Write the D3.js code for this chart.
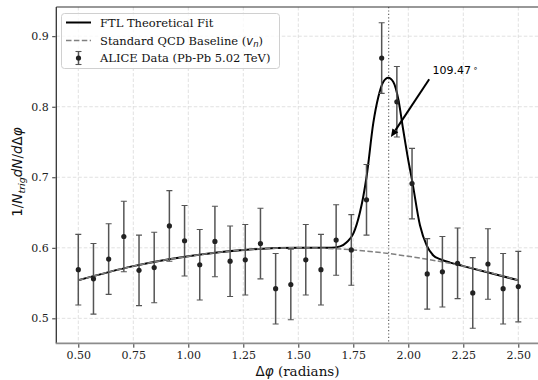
<!DOCTYPE html>
<html>
<head>
<meta charset="utf-8">
<script src="https://cdn.jsdelivr.net/npm/d3@7"></script>
<style>
  body { margin: 0; background: #fff; }
  svg { display: block; }
</style>
</head>
<body>
<div id="chart"></div>
<script>
// ALICE data points (delta phi in radians)
const dataX = [0.500, 0.569, 0.638, 0.707, 0.776, 0.845, 0.914, 0.983, 1.052, 1.121,
               1.190, 1.259, 1.328, 1.397, 1.466, 1.534, 1.603, 1.672, 1.741, 1.810,
               1.879, 1.948, 2.017, 2.086, 2.155, 2.224, 2.293, 2.362, 2.431, 2.500];
const dataY = [0.569, 0.556, 0.584, 0.616, 0.568, 0.572, 0.631, 0.610, 0.576, 0.609,
               0.581, 0.583, 0.606, 0.542, 0.548, 0.583, 0.569, 0.611, 0.597, 0.668,
               0.869, 0.807, 0.691, 0.563, 0.566, 0.578, 0.536, 0.577, 0.542, 0.545];
const dataErr = [0.05, 0.05, 0.05, 0.05, 0.05, 0.05, 0.05, 0.05, 0.05, 0.05,
                 0.05, 0.05, 0.05, 0.05, 0.05, 0.05, 0.05, 0.05, 0.05, 0.05,
                 0.05, 0.05, 0.05, 0.05, 0.05, 0.05, 0.05, 0.05, 0.05, 0.05];

// FTL fit curve
const fitX = [0.50, 0.75, 1.00, 1.25, 1.50, 1.65, 1.69, 1.72, 1.75, 1.78, 1.795, 1.81,
              1.841, 1.864, 1.886, 1.909, 1.932, 1.955, 1.977, 2.00, 2.017, 2.053,
              2.084, 2.114, 2.144, 2.19, 2.25, 2.50];
const fitY = [0.554, 0.574, 0.588, 0.597, 0.600, 0.600, 0.602, 0.608, 0.620, 0.650, 0.672, 0.700,
              0.777, 0.814, 0.835, 0.841, 0.835, 0.810, 0.767, 0.724, 0.696, 0.632,
              0.603, 0.589, 0.584, 0.579, 0.574, 0.554];

// QCD baseline
const baseX = [0.50, 0.75, 1.00, 1.25, 1.50, 1.75, 2.00, 2.25, 2.50];
const baseY = [0.554, 0.574, 0.588, 0.597, 0.600, 0.597, 0.588, 0.574, 0.554];

const xTicks = [0.50, 0.75, 1.00, 1.25, 1.50, 1.75, 2.00, 2.25, 2.50];
const yTicks = [0.5, 0.6, 0.7, 0.8, 0.9];

const peakAngle = 1.9106;           // 109.47 deg
const arrowTail = [2.095, 0.839];
const arrowHead = [1.921, 0.757];
const labelAt = [2.11, 0.846];

const W = 538, H = 380;
const pLeft = 56.3, pRight = 540.3, pTop = 7, pBottom = 343.3;
const SERIF = "'DejaVu Serif', 'Liberation Serif', serif";
const SANS = "'DejaVu Sans', sans-serif";

const x = d3.scaleLinear().domain([0.4, 2.6]).range([pLeft, pRight]);
const y = d3.scaleLinear().domain([0.4646, 0.9414]).range([pBottom, pTop]);

const svg = d3.select('#chart').append('svg')
  .attr('width', W)
  .attr('height', H);

svg.append('defs').append('clipPath').attr('id', 'plot')
  .append('rect').attr('x', pLeft).attr('y', pTop)
  .attr('width', pRight - pLeft).attr('height', pBottom - pTop);

// grid
const grid = svg.append('g').attr('stroke', '#d9d9d9').attr('stroke-width', 0.8)
  .attr('stroke-dasharray', '3.5,2');
grid.selectAll('.gx').data(xTicks).enter().append('line')
  .attr('x1', d => x(d)).attr('x2', d => x(d)).attr('y1', pTop).attr('y2', pBottom);
grid.selectAll('.gy').data(yTicks).enter().append('line')
  .attr('x1', pLeft).attr('x2', pRight).attr('y1', d => y(d)).attr('y2', d => y(d));

const plot = svg.append('g').attr('clip-path', 'url(#plot)');

// peak marker
plot.append('line')
  .attr('x1', x(peakAngle)).attr('x2', x(peakAngle))
  .attr('y1', pTop).attr('y2', pBottom)
  .attr('stroke', '#666').attr('stroke-width', 1.2)
  .attr('stroke-dasharray', '1.2,2.2');

const line = d3.line().x(d => x(d[0])).y(d => y(d[1])).curve(d3.curveMonotoneX);

plot.append('path')
  .datum(fitX.map((v, i) => [v, fitY[i]]))
  .attr('d', line)
  .attr('fill', 'none').attr('stroke', '#000').attr('stroke-width', 2);

plot.append('path')
  .datum(baseX.map((v, i) => [v, baseY[i]]))
  .attr('d', line)
  .attr('fill', 'none').attr('stroke', '#808080').attr('stroke-width', 1.5)
  .attr('stroke-dasharray', '5.5,2.4');

// error bars
const pts = dataX.map((v, i) => ({ x: v, y: dataY[i], e: dataErr[i] }));
const eb = plot.append('g').attr('stroke', '#555').attr('stroke-width', 1.5);
eb.selectAll('.bar').data(pts).enter().append('line')
  .attr('x1', d => x(d.x)).attr('x2', d => x(d.x))
  .attr('y1', d => y(d.y - d.e)).attr('y2', d => y(d.y + d.e));
eb.selectAll('.capt').data(pts).enter().append('line')
  .attr('x1', d => x(d.x) - 3).attr('x2', d => x(d.x) + 3)
  .attr('y1', d => y(d.y + d.e)).attr('y2', d => y(d.y + d.e))
  .attr('stroke-width', 1.1);
eb.selectAll('.capb').data(pts).enter().append('line')
  .attr('x1', d => x(d.x) - 3).attr('x2', d => x(d.x) + 3)
  .attr('y1', d => y(d.y - d.e)).attr('y2', d => y(d.y - d.e))
  .attr('stroke-width', 1.1);
plot.selectAll('.pt').data(pts).enter().append('circle')
  .attr('cx', d => x(d.x)).attr('cy', d => y(d.y)).attr('r', 2.6)
  .attr('fill', '#222');

// annotation arrow
const ax1 = x(arrowTail[0]), ay1 = y(arrowTail[1]);
const ax2 = x(arrowHead[0]), ay2 = y(arrowHead[1]);
const ang = Math.atan2(ay2 - ay1, ax2 - ax1);
const hl = 8, hw = 3.5;
const bx = ax2 - hl * Math.cos(ang), by = ay2 - hl * Math.sin(ang);
svg.append('line')
  .attr('x1', ax1).attr('y1', ay1).attr('x2', bx).attr('y2', by)
  .attr('stroke', '#000').attr('stroke-width', 2);
svg.append('path')
  .attr('d', `M${ax2},${ay2}L${bx + hw * Math.sin(ang)},${by - hw * Math.cos(ang)}L${bx - hw * Math.sin(ang)},${by + hw * Math.cos(ang)}Z`)
  .attr('fill', '#000');

const ann = svg.append('text')
  .attr('x', x(labelAt[0])).attr('y', y(labelAt[1]))
  .attr('font-family', SANS).attr('font-size', 11).attr('fill', '#000');
ann.append('tspan').text('109.47');
ann.append('tspan').attr('dx', 2).attr('dy', -3).attr('font-size', 8).text('\u2218');

// spines
svg.append('line').attr('x1', pLeft).attr('x2', pRight).attr('y1', pTop).attr('y2', pTop)
  .attr('stroke', '#333').attr('stroke-width', 1.2);
svg.append('line').attr('x1', pLeft).attr('x2', pLeft).attr('y1', pTop).attr('y2', pBottom)
  .attr('stroke', '#333').attr('stroke-width', 1.3);
svg.append('line').attr('x1', pLeft - 0.6).attr('x2', pRight).attr('y1', pBottom).attr('y2', pBottom)
  .attr('stroke', '#8c8c8c').attr('stroke-width', 1.8);

// axes
const xAxis = svg.append('g').attr('transform', `translate(0,${pBottom + 0.9})`)
  .call(d3.axisBottom(x).tickValues(xTicks).tickFormat(d3.format('.2f')).tickSize(3.5).tickPadding(3.5));
const yAxis = svg.append('g').attr('transform', `translate(${pLeft - 0.6},0)`)
  .call(d3.axisLeft(y).tickValues(yTicks).tickFormat(d3.format('.1f')).tickSize(3.5).tickPadding(3.5));
[xAxis, yAxis].forEach(g => {
  g.select('.domain').remove();
  g.selectAll('line').attr('stroke', '#333').attr('stroke-width', 1);
  g.selectAll('text').attr('font-family', SERIF).attr('font-size', 11).attr('fill', '#222');
});

// axis labels
const xl = svg.append('text').attr('x', 297.5).attr('y', 375.5)
  .attr('text-anchor', 'middle').attr('font-size', 13.5).attr('fill', '#111');
xl.append('tspan').attr('font-family', SANS).text('\u0394');
xl.append('tspan').attr('font-family', SANS).attr('font-style', 'italic').text('\u03c6');
xl.append('tspan').attr('font-family', SERIF).text(' (radians)');

const yl = svg.append('text')
  .attr('transform', 'translate(22,172) rotate(-90)')
  .attr('text-anchor', 'middle').attr('font-family', SANS)
  .attr('font-size', 13.5).attr('fill', '#111');
yl.append('tspan').text('1/');
yl.append('tspan').attr('font-style', 'italic').text('N');
yl.append('tspan').attr('font-style', 'italic').attr('font-size', 9.5).attr('dy', 3).text('trig');
yl.append('tspan').attr('font-style', 'italic').attr('dy', -3).text('dN');
yl.append('tspan').text('/');
yl.append('tspan').attr('font-style', 'italic').text('d');
yl.append('tspan').text('\u0394');
yl.append('tspan').attr('font-style', 'italic').text('\u03c6');

// legend
const lg = svg.append('g');
lg.append('rect').attr('x', 61.5).attr('y', 13.5).attr('width', 218).attr('height', 55)
  .attr('rx', 3).attr('fill', '#fff').attr('fill-opacity', 0.8)
  .attr('stroke', '#d0d0d0').attr('stroke-width', 1);
const rows = [22.5, 40.5, 58];
lg.append('line').attr('x1', 66).attr('x2', 91).attr('y1', rows[0]).attr('y2', rows[0])
  .attr('stroke', '#000').attr('stroke-width', 2);
lg.append('line').attr('x1', 66).attr('x2', 91).attr('y1', rows[1]).attr('y2', rows[1])
  .attr('stroke', '#808080').attr('stroke-width', 1.5).attr('stroke-dasharray', '5.5,2.4');
lg.append('line').attr('x1', 78.5).attr('x2', 78.5).attr('y1', rows[2] - 6.5).attr('y2', rows[2] + 6.5)
  .attr('stroke', '#555').attr('stroke-width', 1.5);
lg.append('line').attr('x1', 75.5).attr('x2', 81.5).attr('y1', rows[2] - 6.5).attr('y2', rows[2] - 6.5)
  .attr('stroke', '#555').attr('stroke-width', 1.1);
lg.append('line').attr('x1', 75.5).attr('x2', 81.5).attr('y1', rows[2] + 6.5).attr('y2', rows[2] + 6.5)
  .attr('stroke', '#555').attr('stroke-width', 1.1);
lg.append('circle').attr('cx', 78.5).attr('cy', rows[2]).attr('r', 2.6).attr('fill', '#222');

const lt = (i) => lg.append('text').attr('x', 100).attr('y', rows[i] + 4)
  .attr('font-family', SERIF).attr('font-size', 11.5).attr('fill', '#111');
lt(0).text('FTL Theoretical Fit');
const t1 = lt(1);
t1.append('tspan').text('Standard QCD Baseline (');
t1.append('tspan').attr('font-family', SANS).attr('font-style', 'italic').text('v');
t1.append('tspan').attr('font-family', SANS).attr('font-style', 'italic')
  .attr('font-size', 8.5).attr('dy', 2.5).text('n');
t1.append('tspan').attr('dy', -2.5).text(')');
lt(2).text('ALICE Data (Pb-Pb 5.02 TeV)');
</script>
</body>
</html>
